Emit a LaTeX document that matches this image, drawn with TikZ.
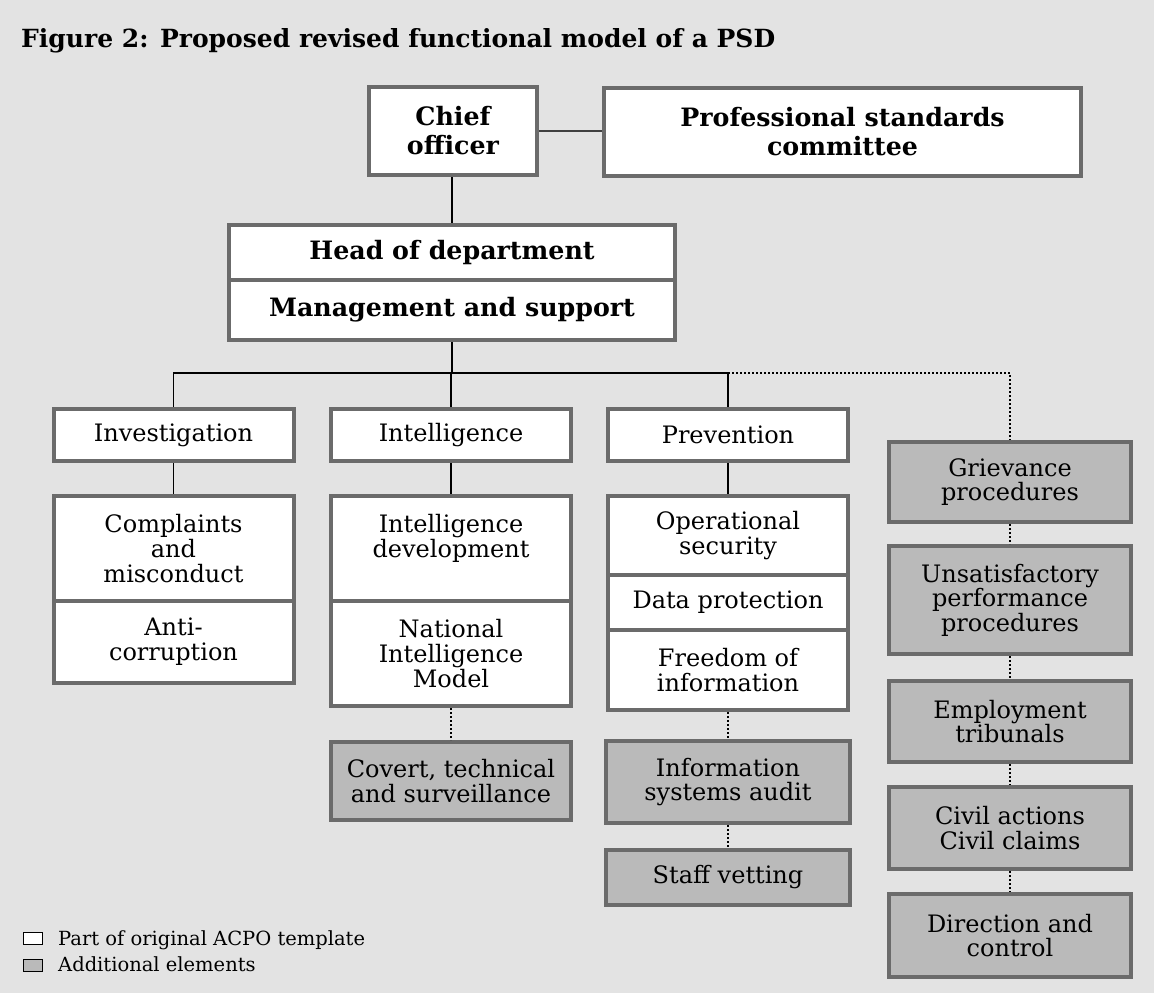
\documentclass[tikz,border=0pt]{standalone}
\usepackage{fontspec}
\setmainfont{DejaVu Serif}
\definecolor{bgc}{gray}{0.89}
\definecolor{addfill}{gray}{0.73}
\definecolor{boxline}{gray}{0.42}
\tikzset{
  unitbox/.style={draw=boxline, line width=4pt, fill=white, inner sep=0pt,
    align=center, font=\fontsize{24}{25}\selectfont},
  headbox/.style={unitbox, font=\fontsize{25.3}{29}\selectfont\bfseries},
  addbox/.style={unitbox, fill=addfill, font=\fontsize{24}{24.5}\selectfont},
  link/.style={line width=1.4pt, black},
  addlink/.style={line width=1.6pt, black, dash pattern=on 1.6pt off 2.4pt},
  legtext/.style={anchor=base west, inner sep=0pt, font=\fontsize{19.5}{20}\selectfont}
}
\begin{document}
\begin{tikzpicture}[x=1pt,y=-1pt]
\fill[bgc] (0,0) rectangle (1154,993);
\useasboundingbox (0,0) rectangle (1154,993);

% title
\node[anchor=base west, inner sep=0pt, font=\fontsize{25}{30}\selectfont\bfseries]
  (title) at (21,47) {Figure 2: Proposed revised functional model of a PSD};

% top of the structure
\node[headbox, minimum width=168pt, minimum height=88pt] (chief) at (453,131) {Chief\\officer};
\node[headbox, minimum width=477pt, minimum height=88pt] (psc) at (842.5,132) {Professional standards\\committee};
\node[headbox, minimum width=446pt, minimum height=55pt] (hod) at (452,252.5) {Head of department};
\node[headbox, minimum width=446pt, minimum height=60pt] (mgmt) at (452,310) {Management and support};

% the three functional areas
\node[unitbox, minimum width=240pt, minimum height=52pt] (inv) at (173.5,435) {Investigation};
\node[unitbox, minimum width=240pt, minimum height=52pt] (intel) at (451,435) {Intelligence};
\node[unitbox, minimum width=240pt, minimum height=52pt] (prev) at (728,435) {Prevention};

\node[unitbox, minimum width=240pt, minimum height=105pt] (compl) at (173.5,548.5) {Complaints\\and\\misconduct};
\node[unitbox, minimum width=240pt, minimum height=82pt] (anti) at (173.5,642) {Anti-\\corruption};

\node[unitbox, minimum width=240pt, minimum height=105pt] (idev) at (451,548.5) {Intelligence\\development\\\mbox{}};
\node[unitbox, minimum width=240pt, minimum height=105pt] (nim) at (451,653.5) {National\\Intelligence\\Model};
\node[addbox, minimum width=240pt, minimum height=78pt] (covert) at (451,781) {Covert, technical\\and surveillance};

\node[unitbox, minimum width=240pt, minimum height=79pt] (opsec) at (728,535.5) {Operational\\security};
\node[unitbox, minimum width=240pt, minimum height=55pt] (dp) at (728,602.5) {Data protection};
\node[unitbox, minimum width=240pt, minimum height=80pt] (foi) at (728,670) {Freedom of\\information};
\node[addbox, minimum width=244pt, minimum height=82pt] (isa) at (728,782) {Information\\systems audit};
\node[addbox, minimum width=244pt, minimum height=55pt] (vet) at (728,877.5) {Staff vetting};

% additional personnel functions
\node[addbox, minimum width=242pt, minimum height=80pt] (griev) at (1010,482) {Grievance\\procedures};
\node[addbox, minimum width=242pt, minimum height=108pt] (unsat) at (1010,600) {Unsatisfactory\\performance\\procedures};
\node[addbox, minimum width=242pt, minimum height=81pt] (empl) at (1010,721.5) {Employment\\tribunals};
\node[addbox, minimum width=242pt, minimum height=82pt] (civil) at (1010,828) {Civil actions\\Civil claims};
\node[addbox, minimum width=242pt, minimum height=83pt] (dir) at (1010,935.5) {Direction and\\control};

% connectors
\coordinate (bus) at (452,373);
\draw[link, black!75] (chief.east) -- (chief.east -| psc.west);
\draw[link] (hod.north |- chief.south) -- (hod.north);
\draw[link] (mgmt.south) -- (bus);
\draw[link] (inv.north) |- (bus) -| (prev.north);
\draw[link] (intel.north) -- (intel.north |- bus);
\draw[link] (inv.south) -- (compl.north);
\draw[link] (intel.south) -- (idev.north);
\draw[link] (prev.south) -- (opsec.north);

\draw[addlink] (prev.north |- bus) -| (griev.north);
\draw[addlink] (nim.south) -- (covert.north);
\draw[addlink] (foi.south) -- (isa.north);
\draw[addlink] (isa.south) -- (vet.north);
\draw[addlink] (griev.south) -- (unsat.north);
\draw[addlink] (unsat.south) -- (empl.north);
\draw[addlink] (empl.south) -- (civil.north);
\draw[addlink] (civil.south) -- (dir.north);

% key
\node[draw=black, line width=1pt, fill=white, minimum width=19pt, minimum height=12pt, inner sep=0pt] (keyorig) at (33,938.5) {};
\node[draw=black, line width=1pt, fill=addfill, minimum width=19pt, minimum height=12pt, inner sep=0pt] (keyadd) at (33,965) {};
\node[legtext] (keyorigtext) at (58,945) {Part of original ACPO template};
\node[legtext] (keyaddtext) at (58,971) {Additional elements};
\end{tikzpicture}
\end{document}
